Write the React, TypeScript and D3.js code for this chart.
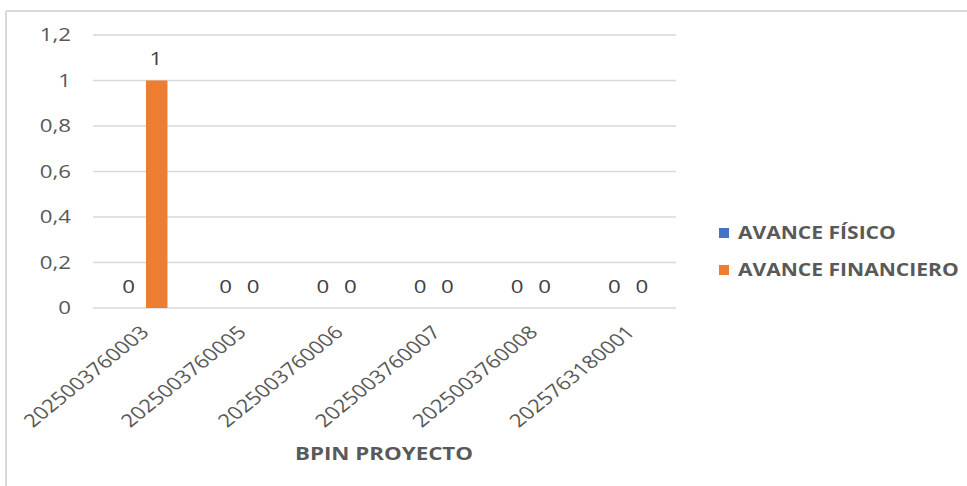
import React from "react";
import * as d3 from "d3";

const categories = ["2025003760003", "2025003760005", "2025003760006", "2025003760007", "2025003760008", "2025763180001"];
const avanceFisico = [0, 0, 0, 0, 0, 0];
const avanceFinanciero = [1, 0, 0, 0, 0, 0];
const yTicks = [0, 0.2, 0.4, 0.6, 0.8, 1, 1.2];
const seriesNames = ["AVANCE FÍSICO", "AVANCE FINANCIERO"];
const seriesColors = ["#4472C4", "#ED7D31"];

const W = 967, H = 486;
const FONT = "'Open Sans', 'DejaVu Sans', sans-serif";
const S = 1.24;

export default function App() {
  const x = d3.scaleBand<string>().domain(categories).range([93, 676]).paddingInner(0).paddingOuter(0);
  const y = d3.scaleLinear().domain([0, 1.2]).range([308, 35]);
  const barW = 21.5;
  const series = [avanceFisico, avanceFinanciero];
  const fmt = (v: number) => String(v).replace(".", ",");

  return (
    <svg width={W} height={H} style={{ position: "absolute", left: 0, top: 0, background: "#fff" }}>
      <rect x={0} y={0} width={W} height={H} fill="#fff" />
      <line x1={6} y1={11} x2={W} y2={11} stroke="#d9d9d9" strokeWidth={2} />
      <line x1={6} y1={11} x2={6} y2={H} stroke="#d9d9d9" strokeWidth={2} />
      {yTicks.map((t) => (
        <g key={t}>
          <line x1={93} x2={676} y1={y(t)} y2={y(t)} stroke="#d9d9d9" strokeWidth={1.5} />
          <text transform={`translate(71,${y(t)}) scale(${S},1)`} dy="0.36em" textAnchor="end" fontFamily={FONT} fontSize={18} fill="#595959">{fmt(t)}</text>
        </g>
      ))}
      {categories.map((c, i) => {
        const cx = x(c)! + x.bandwidth() / 2;
        return (
          <g key={c}>
            {series.map((s, k) => {
              const bx = cx - barW + k * barW + 4.4;
              const v = s[i];
              const ly = v > 0 ? y(v) - 22 : y(0) - 21;
              const lx = bx + barW / 2 + (k === 0 ? -6.7 : -0.8);
              return (
                <g key={k}>
                  <rect x={bx} y={y(v)} width={barW} height={y(0) - y(v)} fill={seriesColors[k]} />
                  <text transform={`translate(${lx},${ly}) scale(${S},1)`} dy="0.36em" textAnchor="middle" fontFamily={FONT} fontSize={18} fill="#404040">{fmt(v)}</text>
                </g>
              );
            })}
            <text transform={`translate(${cx + 3},${y(0) + 21}) scale(${S},1) rotate(-45)`} textAnchor="end" dy="0.36em" fontFamily={FONT} fontSize={18} fill="#595959">{c}</text>
          </g>
        );
      })}
      <text transform={`translate(384,454) scale(${S},1)`} dy="0.36em" textAnchor="middle" fontFamily={FONT} fontSize={18} fontWeight="bold" fill="#595959">BPIN PROYECTO</text>
      {seriesNames.map((n, k) => (
        <g key={n}>
          <rect x={719} y={228 + k * 37} width={10} height={10} fill={seriesColors[k]} />
          <text transform={`translate(738,${233 + k * 37}) scale(${S},1)`} dy="0.36em" fontFamily={FONT} fontSize={17} fontWeight="bold" fill="#595959">{n}</text>
        </g>
      ))}
    </svg>
  );
}
